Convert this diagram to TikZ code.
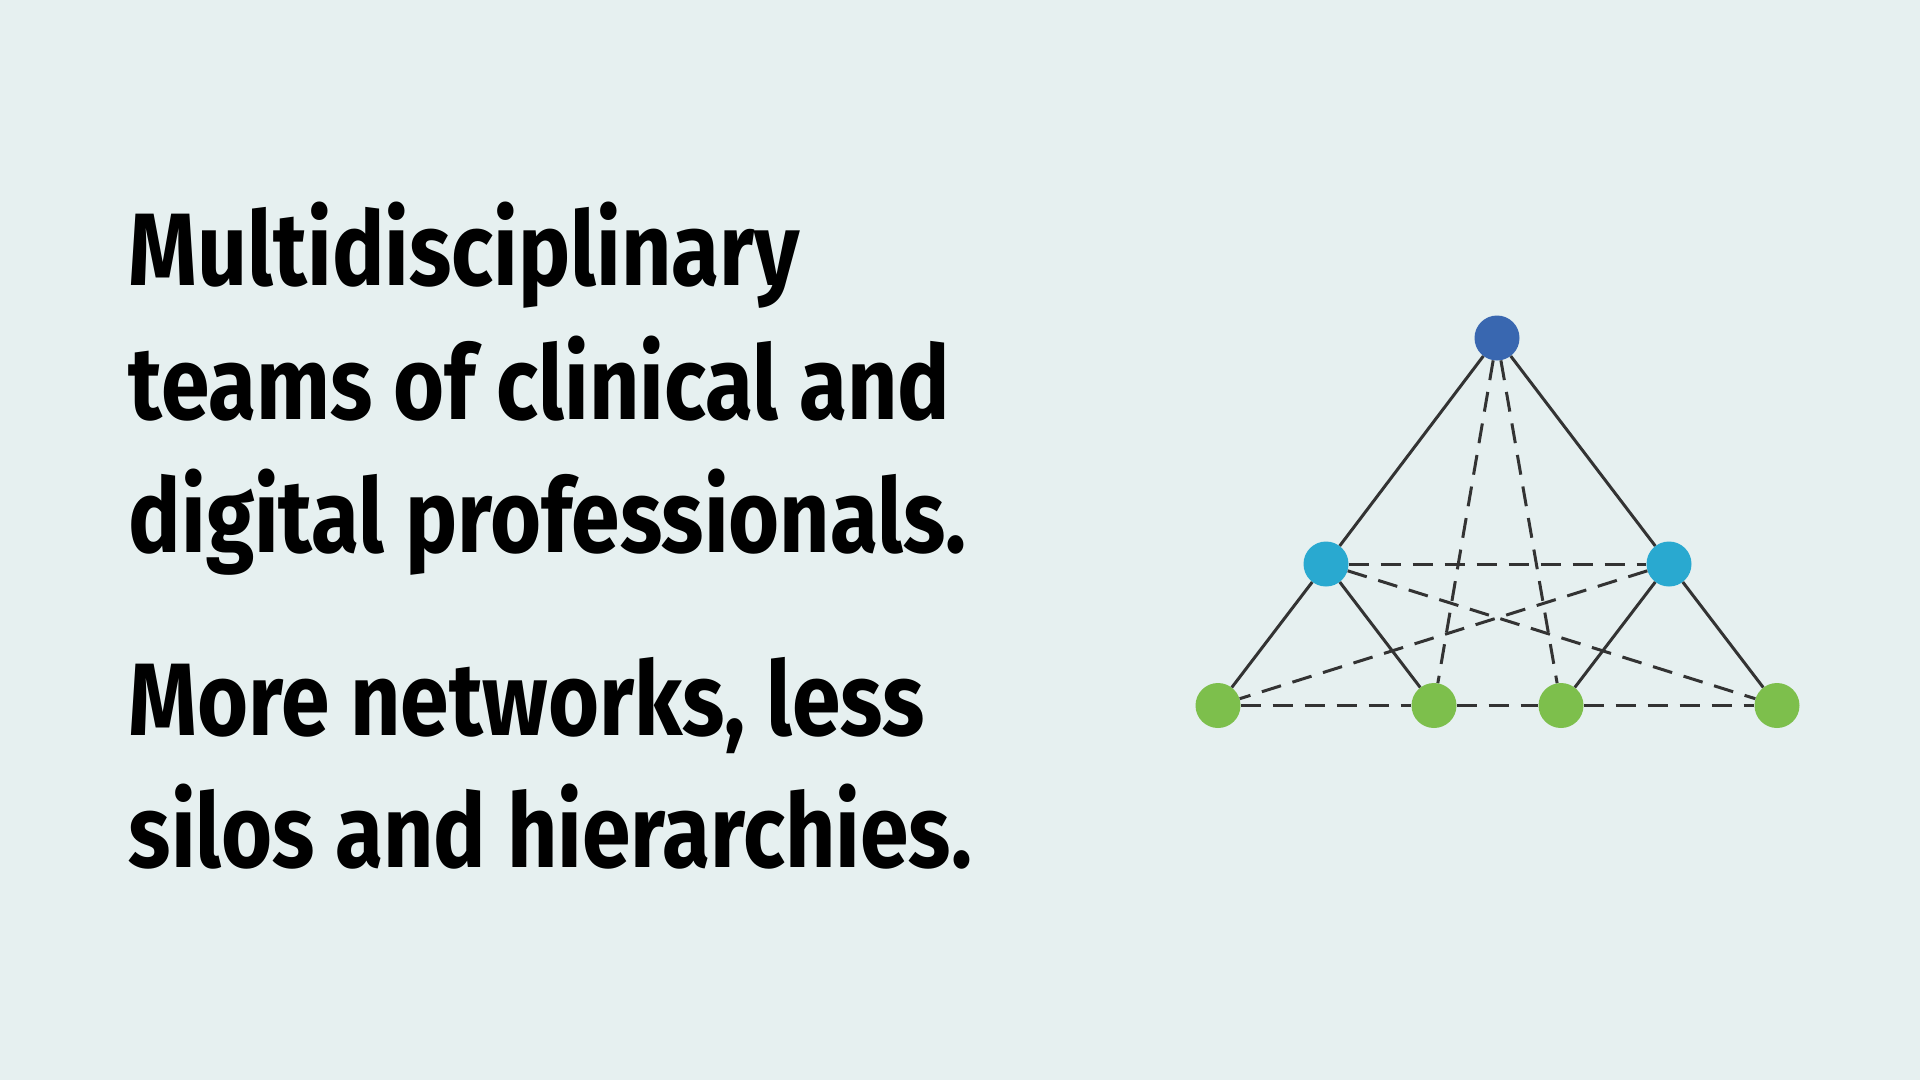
\documentclass[tikz,border=0pt]{standalone}
\usepackage{fontspec}
\setmainfont{Fira Sans}[FakeStretch=0.85]
\definecolor{bg}{HTML}{E6F0F0}
\definecolor{topc}{HTML}{3967B0}
\definecolor{midc}{HTML}{29A9D0}
\definecolor{botc}{HTML}{7DBF4C}
\definecolor{edgec}{HTML}{333333}
\begin{document}
\begin{tikzpicture}[x=1pt,y=-1pt,
  dot/.style={circle,minimum size=45pt,inner sep=0pt,draw=none},
  solidedge/.style={draw=edgec,line width=3pt},
  dashedge/.style={draw=edgec,line width=3pt,dash pattern=on 20pt off 12pt},
  txt/.style={anchor=base west,inner sep=0pt,font=\fontsize{103pt}{134pt}\selectfont\bfseries}]
\fill[bg] (0,0) rectangle (1920,1080);
\useasboundingbox (0,0) rectangle (1920,1080);
% text
\node[txt] (l1) at (128.6,285) {Multidisciplinary};
\node[txt] (l2) at (128.6,419) {teams of clinical and};
\node[txt] (l3) at (128.6,552) {digital professionals.};
\node[txt] (l4) at (128.6,735) {More networks, less};
\node[txt] (l5) at (128.6,867) {silos and hierarchies.};
% nodes
\node[dot,fill=topc] (t) at (1497,338) {};
\node[dot,fill=midc] (ml) at (1326,564) {};
\node[dot,fill=midc] (mr) at (1669,564) {};
\node[dot,fill=botc] (b1) at (1218,705.5) {};
\node[dot,fill=botc] (b2) at (1434,705.5) {};
\node[dot,fill=botc] (b3) at (1561,705.5) {};
\node[dot,fill=botc] (b4) at (1777,705.5) {};
% dashed edges
\draw[dashedge] (t) -- (b2);
\draw[dashedge] (t) -- (b3);
\draw[dashedge] (ml) -- (mr);
\draw[dashedge] (ml) -- (b4);
\draw[dashedge] (mr) -- (b1);
\draw[dashedge] (b1) -- (b2);
\draw[dashedge] (b2) -- (b3);
\draw[dashedge] (b3) -- (b4);
% solid edges
\draw[solidedge] (t) -- (ml);
\draw[solidedge] (t) -- (mr);
\draw[solidedge] (ml) -- (b1);
\draw[solidedge] (ml) -- (b2);
\draw[solidedge] (mr) -- (b3);
\draw[solidedge] (mr) -- (b4);
\end{tikzpicture}
\end{document}
